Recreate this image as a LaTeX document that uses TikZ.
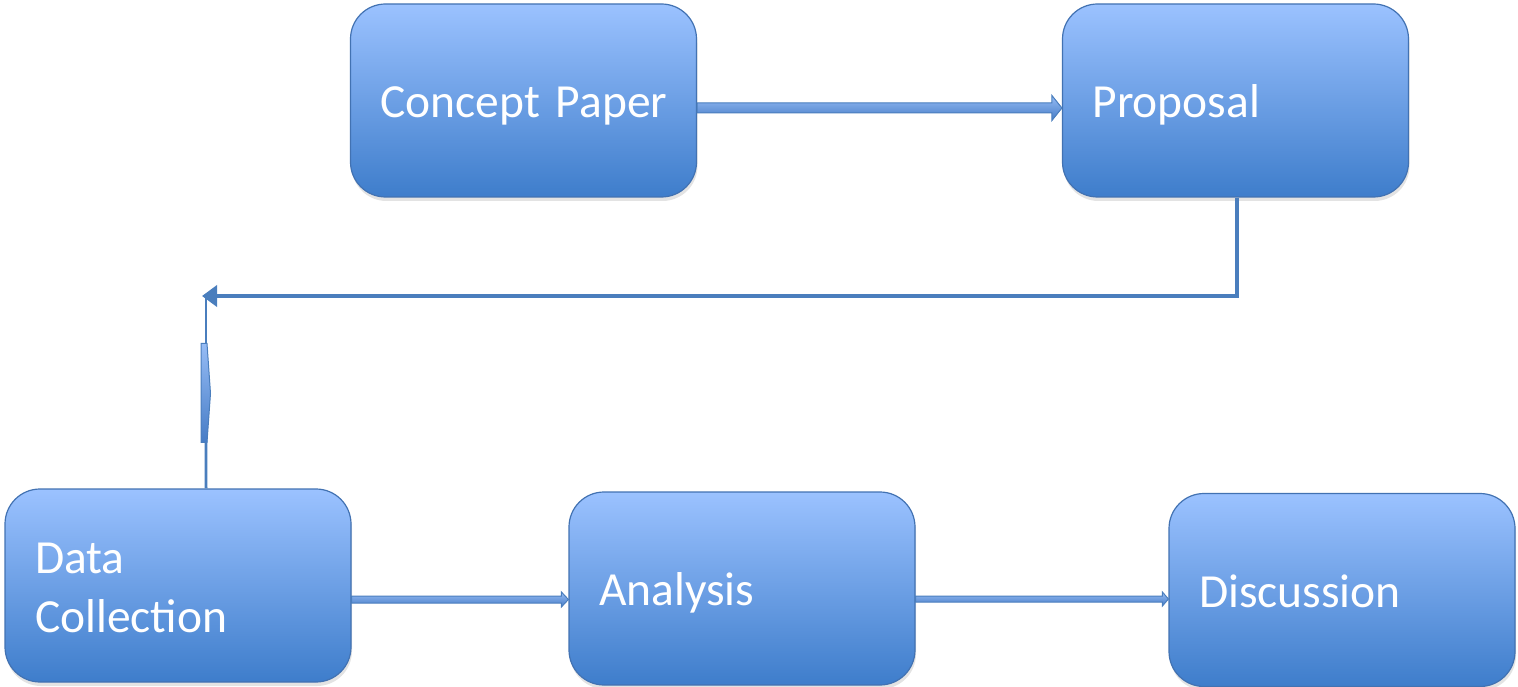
\documentclass[tikz,border=0pt]{standalone}
\usepackage{fontspec}
\setmainfont{Carlito}
\usetikzlibrary{calc,shadows,arrows.meta}
\definecolor{boxtop}{RGB}{155,194,255}
\definecolor{boxbot}{RGB}{62,125,203}
\definecolor{boxedge}{RGB}{66,114,178}
\definecolor{conncol}{RGB}{74,126,189}
\definecolor{arrtop}{RGB}{150,188,245}
\definecolor{arrbot}{RGB}{70,124,198}
\newcommand\blockarr[5]{%
  \path[barrow] ($(#1)+(0,-#3)$) -- ($(#2)+(-#5,-#3)$) -- ($(#2)+(-#5,-#4)$) -- (#2)
    -- ($(#2)+(-#5,#4)$) -- ($(#2)+(-#5,#3)$) -- ($(#1)+(0,#3)$) -- cycle;}
\newcommand\lnstrut{\rule[-12pt]{0pt}{58pt}}
\begin{document}
\begin{tikzpicture}[x=1pt,y=-1pt,
  stagebox/.style={draw=boxedge, line width=1.2pt, rounded corners=35pt,
    top color=boxtop, bottom color=boxbot, text=white,
    font=\fontsize{47.5}{57}\selectfont, text width=286pt, align=left,
    inner xsep=30pt, inner ysep=0pt, minimum height=193pt,
    drop shadow={shadow xshift=1pt, shadow yshift=-4pt, opacity=0.22}},
  barrow/.style={draw=conncol, line width=1pt, top color=arrtop, bottom color=arrbot},
  conn/.style={draw=conncol, line width=4.5pt}]
\useasboundingbox (0,0) rectangle (1518,687);

\node[stagebox] (cp) at (523.5,100.5) {\lnstrut\mbox{Concept Paper}};
\node[stagebox] (pr) at (1235.5,100.5) {\lnstrut Proposal};
\node[stagebox] (dc) at (178,585.5) {\lnstrut Data\\\lnstrut Collection};
\node[stagebox] (an) at (742,588.5) {\lnstrut Analysis};
\node[stagebox] (di) at (1342,590) {\lnstrut Discussion};

% Concept Paper -> Proposal
\coordinate (a1s) at ($(cp.east)+(0,7.5)$);
\coordinate (a1e) at (pr.west |- a1s);
\blockarr{a1s}{a1e}{5}{12.5}{10}

% Data Collection -> Analysis
\coordinate (a2s) at ($(dc.east)+(0,14)$);
\coordinate (a2e) at (an.west |- a2s);
\blockarr{a2s}{a2e}{3.5}{7.5}{7}

% Analysis -> Discussion
\coordinate (a3s) at ($(an.east)+(0,10.5)$);
\coordinate (a3e) at (di.west |- a3s);
\blockarr{a3s}{a3e}{3}{7}{6}

% Proposal -> elbow back left
\coordinate (turn) at (202,296);
\draw[conn, -{Triangle[length=15pt,width=21pt]}] ($(pr.south)+(1.5,0)$) |- (turn);

% Data Collection up to elbow
\coordinate (dctop) at ($(dc.north)+(28,0)$);
\coordinate (vtop) at (206,298);
\fill[conncol] ($(dctop)+(-1.5,0)$) -- ($(dctop)+(1.5,0)$) -- ($(vtop)+(0.8,0)$) -- ($(vtop)+(-0.8,0)$) -- cycle;
\path[barrow] ($(dctop)+(-5,-145)$) -- ($(dctop)+(1,-145)$) -- ($(dctop)+(4.5,-95)$)
  -- ($(dctop)+(1,-46)$) -- ($(dctop)+(-5,-46)$) -- cycle;
\end{tikzpicture}
\end{document}
